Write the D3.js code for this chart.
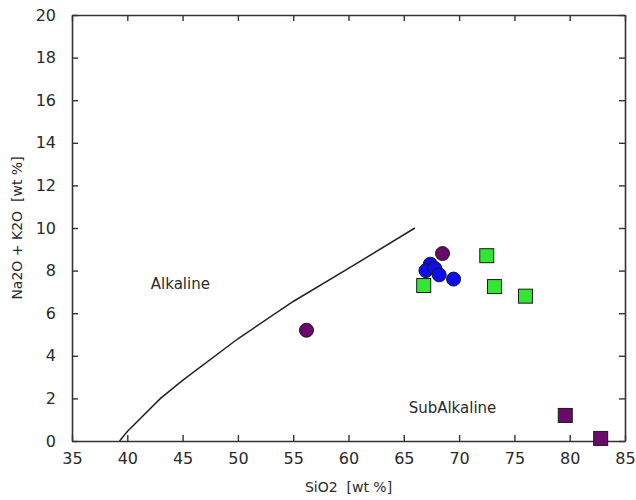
<!DOCTYPE html>
<html>
<head>
<meta charset="utf-8">
<script src="https://cdn.jsdelivr.net/npm/d3@7"></script>
<style>
  html, body { margin: 0; padding: 0; background: #fff; }
  svg text { font-family: "DejaVu Sans", sans-serif; fill: #2a2a2a; white-space: pre; }
</style>
</head>
<body>
<svg id="chart" width="636" height="500"></svg>
<script>
// TAS-style diagram: total alkalis vs. silica
const xTicks = [35, 40, 45, 50, 55, 60, 65, 70, 75, 80, 85];
const yTicks = [0, 2, 4, 6, 8, 10, 12, 14, 16, 18, 20];

// Alkaline / subalkaline dividing line (SiO2, Na2O+K2O)
const dividerSiO2   = [39.3, 40, 43, 45, 50, 55, 60, 66];
const dividerAlkali = [0, 0.45, 2.0, 2.85, 4.8, 6.55, 8.1, 10];

// Sample groups
const purpleCircleSiO2   = [56.2, 68.5];
const purpleCircleAlkali = [5.2, 8.8];

const blueCircleSiO2   = [67.4, 67.0, 67.8, 68.2, 69.5];
const blueCircleAlkali = [8.3, 8.0, 8.1, 7.8, 7.6];

const greenSquareSiO2   = [66.8, 72.5, 73.2, 76.0];
const greenSquareAlkali = [7.3, 8.7, 7.25, 6.8];

const purpleSquareSiO2   = [79.6, 82.8];
const purpleSquareAlkali = [1.2, 0.12];

const fieldLabels = ["Alkaline", "SubAlkaline"];
const fieldLabelSiO2 = [44.8, 69.4];
const fieldLabelAlkali = [7.15, 1.3];

const margin = { left: 72, right: 11, top: 15, bottom: 59 };
const W = 636, H = 500;
const svg = d3.select("#chart");

const x = d3.scaleLinear().domain([35, 85]).range([margin.left, W - margin.right]);
const y = d3.scaleLinear().domain([0, 20]).range([H - margin.bottom, margin.top]);

const axisColor = "#333";
const tickLen = 6;

// Frame with inward ticks on all four sides
const gBottom = svg.append("g").attr("transform", `translate(0,${y(0)})`)
  .call(d3.axisBottom(x).tickValues(xTicks).tickSizeInner(-tickLen).tickSizeOuter(0).tickPadding(12));
const gTop = svg.append("g").attr("transform", `translate(0,${y(20)})`)
  .call(d3.axisTop(x).tickValues(xTicks).tickSizeInner(-tickLen).tickSizeOuter(0).tickFormat(""));
const gLeft = svg.append("g").attr("transform", `translate(${x(35)},0)`)
  .call(d3.axisLeft(y).tickValues(yTicks).tickSizeInner(-tickLen).tickSizeOuter(0).tickPadding(16));
const gRight = svg.append("g").attr("transform", `translate(${x(85)},0)`)
  .call(d3.axisRight(y).tickValues(yTicks).tickSizeInner(-tickLen).tickSizeOuter(0).tickFormat(""));

[gBottom, gTop, gLeft, gRight].forEach(g => {
  g.select(".domain").attr("stroke", axisColor).attr("stroke-width", 1.6);
  g.selectAll(".tick line").attr("stroke", axisColor).attr("stroke-width", 1.4);
  g.selectAll(".tick text").attr("font-size", 16).attr("fill", "#2a2a2a")
    .attr("font-family", "DejaVu Sans, sans-serif");
});
gBottom.selectAll(".tick text").attr("dy", "0.71em");

// Axis titles
svg.append("text")
  .attr("x", (x(35) + x(85)) / 2).attr("y", 492)
  .attr("text-anchor", "middle").attr("font-size", 14)
  .text("SiO2  [wt %]");
svg.append("text")
  .attr("transform", `translate(22,${(y(0) + y(20)) / 2}) rotate(-90)`)
  .attr("text-anchor", "middle").attr("font-size", 14)
  .text("Na2O + K2O  [wt %]");

// Dividing line
const divider = dividerSiO2.map((s, i) => [s, dividerAlkali[i]]);
svg.append("path")
  .datum(divider)
  .attr("fill", "none").attr("stroke", "#222").attr("stroke-width", 1.5)
  .attr("d", d3.line().x(d => x(d[0])).y(d => y(d[1])));

// Field labels
svg.selectAll("text.field")
  .data(fieldLabels)
  .join("text")
  .attr("class", "field")
  .attr("x", (d, i) => x(fieldLabelSiO2[i]))
  .attr("y", (d, i) => y(fieldLabelAlkali[i]))
  .attr("text-anchor", "middle")
  .attr("font-size", 15)
  .text(d => d);

// Markers
function circles(xs, ys, fill) {
  svg.append("g").selectAll("circle")
    .data(xs.map((v, i) => [v, ys[i]]))
    .join("circle")
    .attr("cx", d => x(d[0])).attr("cy", d => y(d[1]))
    .attr("r", 7)
    .attr("fill", fill).attr("stroke", "#1a1a1a").attr("stroke-width", 1);
}
function squares(xs, ys, fill) {
  const s = 14;
  svg.append("g").selectAll("rect")
    .data(xs.map((v, i) => [v, ys[i]]))
    .join("rect")
    .attr("x", d => x(d[0]) - s / 2).attr("y", d => y(d[1]) - s / 2)
    .attr("width", s).attr("height", s)
    .attr("fill", fill).attr("stroke", "#1a1a1a").attr("stroke-width", 1);
}

squares(greenSquareSiO2, greenSquareAlkali, "#33e633");
circles(purpleCircleSiO2, purpleCircleAlkali, "#6a0a6a");
circles(blueCircleSiO2, blueCircleAlkali, "#0d0ded");
squares(purpleSquareSiO2, purpleSquareAlkali, "#6a0a6a");
</script>
</body>
</html>
